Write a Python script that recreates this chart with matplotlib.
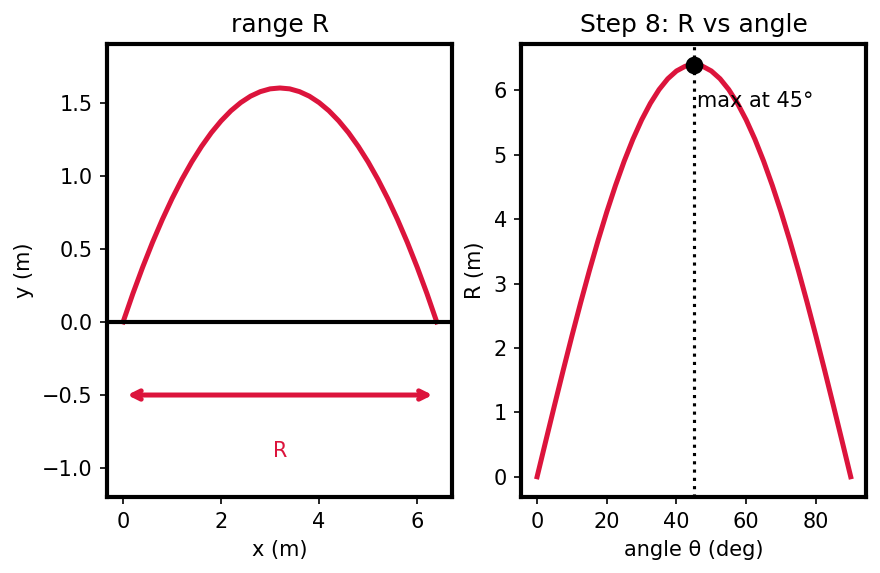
import matplotlib
matplotlib.use("Agg")
import matplotlib.pyplot as plt

# trajectory at 45 deg
traj_x = [0.0, 0.2, 0.4, 0.6, 0.8, 1.0, 1.2, 1.4, 1.6, 1.8, 2.0, 2.2, 2.4, 2.6, 2.8, 3.0, 3.2,
          3.4, 3.6, 3.8, 4.0, 4.2, 4.4, 4.6, 4.8, 5.0, 5.2, 5.4, 5.6, 5.8, 6.0, 6.2, 6.4]
traj_y = [0.0, 0.194, 0.375, 0.544, 0.7, 0.844, 0.975, 1.094, 1.2, 1.294, 1.375, 1.444, 1.5,
          1.544, 1.575, 1.594, 1.6, 1.594, 1.575, 1.544, 1.5, 1.444, 1.375, 1.294, 1.2, 1.094,
          0.975, 0.844, 0.7, 0.544, 0.375, 0.194, 0.0]
range_R = 6.4

# range vs launch angle (right panel)
angle = [0, 2.5, 5, 7.5, 10, 12.5, 15, 17.5, 20, 22.5, 25, 27.5, 30, 32.5, 35, 37.5, 40, 42.5, 45,
         47.5, 50, 52.5, 55, 57.5, 60, 62.5, 65, 67.5, 70, 72.5, 75, 77.5, 80, 82.5, 85, 87.5, 90]
R_vals = [0.0, 0.558, 1.111, 1.656, 2.189, 2.705, 3.2, 3.671, 4.114, 4.525, 4.903, 5.243, 5.543,
          5.8, 6.014, 6.182, 6.303, 6.376, 6.4, 6.376, 6.303, 6.182, 6.014, 5.8, 5.543, 5.243,
          4.903, 4.525, 4.114, 3.671, 3.2, 2.705, 2.189, 1.656, 1.111, 0.558, 0.0]
best_angle = 45

red = "crimson"

fig, (ax1, ax2) = plt.subplots(1, 2, figsize=(5.87, 3.82), dpi=150)

ax1.plot(traj_x, traj_y, color=red, lw=2.4)
ax1.axhline(0, color="black", lw=2)
ax1.annotate("", xy=(range_R, -0.5), xytext=(0, -0.5),
             arrowprops=dict(arrowstyle="<->", color=red, lw=2.4, shrinkA=2, shrinkB=2))
ax1.text(range_R / 2, -0.88, "R", color=red, ha="center", va="center")
ax1.set_ylim(-1.2, 1.9)
ax1.set_xlabel("x (m)")
ax1.set_ylabel("y (m)")
ax1.set_title("range R")

ax2.plot(angle, R_vals, color=red, lw=2.4)
ax2.axvline(best_angle, color="black", ls=":", lw=1.5)
ax2.plot([best_angle], [max(R_vals)], "o", color="black", ms=7.5)
ax2.text(best_angle + 1, 5.75, "max at 45°")
ax2.set_xlabel("angle θ (deg)")
ax2.set_ylabel("R (m)")
ax2.set_title("Step 8: R vs angle")

for ax in (ax1, ax2):
    for s in ax.spines.values():
        s.set_linewidth(2)

fig.subplots_adjust(left=0.122, right=0.984, bottom=0.132, top=0.923, wspace=0.2)
fig.savefig("out.png")
